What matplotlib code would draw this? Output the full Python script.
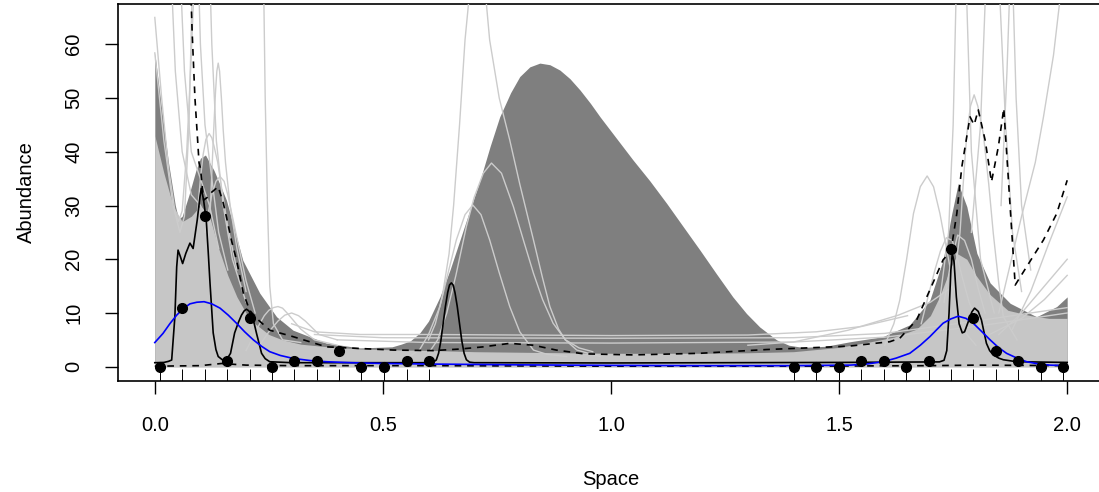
import matplotlib
matplotlib.use("Agg")
import matplotlib.pyplot as plt
import matplotlib.transforms as mtransforms

plt.rcParams['font.family'] = ['Liberation Sans', 'DejaVu Sans']

# ---------------- data ----------------
# observed samples (points + rug)
obs_x = [0.011, 0.060, 0.110, 0.159, 0.208, 0.257, 0.305, 0.355, 0.404, 0.453, 0.502, 0.552, 0.601,
         1.401, 1.450, 1.500, 1.549, 1.598, 1.647, 1.696, 1.745, 1.794, 1.844, 1.893, 1.942, 1.991]
obs_y = [0, 11, 28, 1, 9, 0, 1, 1, 3, 0, 0, 1, 1,
         0, 0, 0, 1, 1, 0, 1, 22, 9, 3, 1, 0, 0]

# upper envelope of the dark grey region
env_x = [0.0, 0.015, 0.03, 0.045, 0.052, 0.06, 0.075, 0.09, 0.1, 0.111, 0.13, 0.157, 0.193, 0.23,
         0.267, 0.303, 0.376, 0.45, 0.52, 0.54, 0.56, 0.581, 0.6, 0.625, 0.647, 0.669, 0.69, 0.713,
         0.735, 0.756, 0.78, 0.80, 0.822, 0.844, 0.866, 0.888, 0.91, 0.932, 0.955, 0.976, 1.012,
         1.048, 1.085, 1.122, 1.158, 1.195, 1.231, 1.267, 1.297, 1.326, 1.363, 1.39, 1.42, 1.47,
         1.524, 1.596, 1.655, 1.699, 1.728, 1.747, 1.761, 1.78, 1.802, 1.831, 1.875, 1.933, 1.977, 2.0]
env_y = [58.4, 48, 38, 30, 27.5, 28, 32, 36.5, 38.8, 39.4, 36.5, 31, 19.8, 13.7,
         9.3, 6.8, 4.4, 3.5, 3.7, 4.2, 4.8, 6.3, 8.5, 13.0, 18.0, 23.6, 29, 34.7,
         41, 46.5, 51, 54, 55.8, 56.5, 56.2, 55.2, 53.6, 51.5, 49.0, 46.5, 42.5,
         38.5, 34.6, 30.4, 26.1, 21.7, 17.3, 13.0, 9.9, 7.4, 5.0, 4.0, 3.6, 3.8,
         4.65, 5.6, 7.8, 12.4, 19.9, 28.5, 34.1, 29.8, 21.1, 15.6, 11.8, 9.3, 11.2, 13.0]

# top of the dense band of light grey simulation curves
band_x = [0, 0.02, 0.04, 0.06, 0.08, 0.1, 0.12, 0.14, 0.16, 0.18, 0.2, 0.22, 0.25, 0.28, 0.32, 0.38,
          0.45, 0.55, 0.62, 0.7, 0.8, 0.9, 1.0, 1.1, 1.2, 1.3, 1.4, 1.5, 1.56, 1.62, 1.67, 1.7, 1.72,
          1.745, 1.76, 1.78, 1.8, 1.83, 1.87, 1.92, 1.96, 2.0]
band_y = [43, 36, 30, 27, 28, 30, 28, 22, 17, 13, 10, 8, 6, 5, 4.2, 3.7,
          3.3, 3.1, 3.0, 2.8, 2.7, 2.6, 2.5, 2.5, 2.5, 2.6, 2.8, 3.6, 4.5, 5.5, 7.0, 9.5, 13,
          18.5, 21, 20, 17, 13.5, 10.5, 9.5, 9, 9]

# individual light grey simulation curves
sim1_x = [0, 0.015, 0.03, 0.045, 0.052, 0.06, 0.07, 0.08, 0.088]
sim1_y = [65, 50, 37, 28.5, 27, 29, 40, 58, 75]
sim2_x = [0, 0.02, 0.04, 0.055, 0.065, 0.075, 0.082]
sim2_y = [58.4, 42, 30, 25, 28, 45, 70]
sim3_x = [0.035, 0.045, 0.06, 0.08, 0.1, 0.12]
sim3_y = [75, 55, 40, 32, 30, 26]
sim4_x = [0.055, 0.065, 0.08, 0.1, 0.12, 0.14]
sim4_y = [75, 55, 40, 35, 30, 22]
sim5_x = [0.095, 0.1, 0.11, 0.125, 0.14, 0.16]
sim5_y = [75, 60, 45, 35, 25, 18]
sim6_x = [0.12, 0.125, 0.135, 0.15, 0.17, 0.2]
sim6_y = [75, 60, 42, 30, 20, 12]
sim7_x = [0.115, 0.122, 0.128, 0.133, 0.136, 0.139, 0.142, 0.146, 0.15, 0.155, 0.165, 0.18, 0.2]
sim7_y = [20, 30, 42, 51, 55, 56.5, 55, 50, 44, 38, 30, 22, 14]
sim8_x = [0.09, 0.1, 0.106, 0.112, 0.119, 0.125, 0.13, 0.138, 0.145, 0.16, 0.18]
sim8_y = [25, 35, 39.5, 42.3, 43.4, 42.6, 41, 38, 34, 26, 18]
sim9_x = [0.11, 0.118, 0.125, 0.134, 0.143, 0.152, 0.16, 0.17, 0.18, 0.2, 0.22]
sim9_y = [25, 29, 32, 34.5, 35.4, 34.5, 32, 28, 24, 16, 10]
sim10_x = [0.238, 0.242, 0.247, 0.252, 0.26, 0.28, 0.32]
sim10_y = [75, 50, 30, 15, 8, 5, 4.5]
sim11_x = [0.2, 0.215, 0.23, 0.24, 0.25, 0.26, 0.27, 0.28, 0.29, 0.305, 0.32, 0.35, 0.4]
sim11_y = [3, 5.5, 8, 9.5, 10.5, 11, 11.2, 10.9, 10, 8.5, 7, 5, 4]
sim12_x = [0.23, 0.25, 0.27, 0.285, 0.3, 0.315, 0.33, 0.36, 0.4]
sim12_y = [4, 6.5, 8.5, 9.6, 10, 9.5, 8.5, 6, 5]
sim13_x = [0.3, 0.35, 0.45, 0.6, 1.0, 1.3, 1.45, 1.55, 1.65]
sim13_y = [8, 6.5, 6, 6, 5.8, 5.9, 6.5, 7.5, 9.5]
sim14_x = [0.35, 0.5, 1.0, 1.4, 1.6, 1.8, 2.0]
sim14_y = [6, 5.4, 5.3, 5.4, 6.2, 8.5, 11]
sim15_x = [0.4, 0.6, 1.0, 1.4, 1.6, 1.8, 2.0]
sim15_y = [5, 4.5, 4.4, 4.6, 5.5, 7.5, 10]
sim16_x = [1.3, 1.4, 1.52, 1.63, 1.7, 1.75]
sim16_y = [4, 4.6, 6.8, 9.6, 12, 15]
sim17_x = [0.56, 0.58, 0.6, 0.625, 0.643, 0.661, 0.68, 0.697, 0.715, 0.734, 0.755, 0.778, 0.8,
           0.83, 0.86, 0.903]
sim17_y = [2.0, 3.1, 6, 11.2, 17.5, 23.6, 28.3, 30.1, 28.3, 23.6, 17.5, 11.2, 6.5,
           3.1, 2.3, 1.9]
sim18_x = [0.6, 0.62, 0.64, 0.66, 0.683, 0.7, 0.72, 0.738, 0.76, 0.786, 0.81, 0.83, 0.85, 0.873,
           0.9, 0.925, 0.976]
sim18_y = [2.5, 5, 10, 17, 26.1, 31.5, 36, 37.9, 36, 29.8, 23, 17.4, 12.5, 8.1,
           5, 3.1, 1.9]
sim19_x = [0.6, 0.615, 0.63, 0.645, 0.655, 0.668, 0.68, 0.695, 0.707, 0.72, 0.734, 0.755, 0.778,
           0.8, 0.83, 0.85, 0.866, 0.885, 0.9, 0.93, 0.96]
sim19_y = [5, 8, 13, 21, 30, 45, 60.8, 74, 78, 74, 60.8, 50, 42.2,
           34, 23.6, 16.5, 11.2, 7, 5, 3.5, 2.8]
sim20_x = [1.6, 1.62, 1.633, 1.648, 1.663, 1.678, 1.693, 1.707, 1.721, 1.732, 1.743, 1.755, 1.765, 1.78, 1.8]
sim20_y = [4, 8, 12.4, 20, 28.5, 33.5, 35.5, 33.5, 28.5, 23.5, 18.6, 13.5, 9.3, 6, 4]
sim21_x = [1.74, 1.752, 1.765, 1.772, 1.78, 1.788, 1.796, 1.804, 1.816, 1.828, 1.838, 1.85, 1.86, 1.89]
sim21_y = [10, 16, 24.9, 34, 43.4, 48.5, 50.6, 48.5, 43.4, 34, 24.8, 15.5, 9.3, 5]
sim22_x = [1.72, 1.74, 1.75, 1.756, 1.768, 1.78, 1.79, 1.81, 1.84]
sim22_y = [12, 25, 45, 67.5, 90, 67.5, 40, 20, 10]
sim23_x = [1.79, 1.81, 1.82, 1.836, 1.853, 1.865, 1.88, 1.9]
sim23_y = [25, 45, 67.5, 85, 67.5, 45, 25, 14]
sim24_x = [1.855, 1.868, 1.873, 1.878, 1.882, 1.888, 1.9, 1.92]
sim24_y = [30, 55, 67.5, 75, 67.5, 50, 30, 18]
sim25_x = [1.85, 1.875, 1.9, 1.93, 1.948, 1.97, 1.983]
sim25_y = [10, 19, 28, 38, 46.5, 58, 67.5]
sim26_x = [1.88, 1.92, 1.96, 2.0]
sim26_y = [7, 14, 23, 31.6]
sim27_x = [1.85, 1.9, 1.95, 2.0]
sim27_y = [6, 10, 15, 20]
sim28_x = [1.83, 1.9, 1.95, 2.0]
sim28_y = [6, 9, 12.5, 17]
sim29_x = [1.68, 1.695, 1.71, 1.722, 1.735, 1.748, 1.76, 1.772, 1.785, 1.81]
sim29_y = [8, 13, 18, 21.5, 24, 23.5, 20, 16, 12, 7]
sim30_x = [1.73, 1.745, 1.76, 1.775, 1.79, 1.805, 1.82]
sim30_y = [12, 19.5, 24.5, 23.5, 20, 14.5, 10]

# upper and lower dashed quantile curves
qhi_x = [0.077, 0.082, 0.088, 0.094, 0.097, 0.1, 0.107, 0.115, 0.125, 0.139, 0.15, 0.157, 0.168, 0.179,
         0.194, 0.208, 0.223, 0.252, 0.303, 0.376, 0.449, 0.523, 0.61, 0.67, 0.72, 0.778, 0.83, 0.88,
         0.94, 1.048, 1.195, 1.341, 1.487, 1.524, 1.611, 1.633, 1.67, 1.699, 1.728, 1.745, 1.758,
         1.769, 1.787, 1.796, 1.805, 1.82, 1.834, 1.849, 1.861, 1.873, 1.886, 1.911, 1.948, 1.977, 2.0]
qhi_y = [75, 62, 50, 42, 37.9, 37, 31, 31.5, 32.5, 33.5, 30.5, 27.9, 23.5, 19.9,
         13.7, 10.5, 9.0, 6.8, 5.6, 3.7, 3.4, 3.1, 3.0, 3.3, 3.7, 4.35, 4.0, 3.1,
         2.4, 2.2, 2.5, 3.2, 3.7, 3.85, 4.65, 5.3, 8.7, 14.3, 19.9, 21.5, 28.5,
         37.2, 46.5, 45.0, 47.8, 42.2, 34.4, 40.9, 48.1, 32.3, 15.2, 18.6, 23.6, 28.5, 34.7]
qlo_x = [0.0, 0.1, 0.146, 0.2, 0.3, 0.6, 1.0, 1.4, 1.7, 1.8, 2.0]
qlo_y = [0.1, 0.2, 0.6, 0.3, 0.2, 0.2, 0.1, 0.1, 0.2, 0.3, 0.2]

# black solid curve
fit_x = [0.0, 0.02, 0.03, 0.037, 0.044, 0.048, 0.051, 0.056, 0.061, 0.068, 0.077, 0.084, 0.093,
         0.099, 0.102, 0.107, 0.113, 0.117, 0.121, 0.128, 0.134, 0.139, 0.148, 0.157, 0.166, 0.175,
         0.183, 0.19, 0.196, 0.201, 0.206, 0.212, 0.218, 0.223, 0.229, 0.234, 0.242, 0.252, 0.3,
         0.6, 0.61, 0.617, 0.622, 0.627, 0.632, 0.637, 0.642, 0.646, 0.65, 0.654, 0.658, 0.663,
         0.668, 0.673, 0.678, 0.683, 0.69, 0.7, 1.0, 1.5, 1.72, 1.73, 1.736, 1.741, 1.745, 1.748,
         1.752, 1.757, 1.763, 1.77, 1.775, 1.785, 1.791, 1.797, 1.805, 1.812, 1.818, 1.823, 1.83,
         1.838, 1.85, 1.86, 1.889, 2.0]
fit_y = [0.75, 0.8, 1.0, 1.25, 9.3, 18.6, 21.7, 20.5, 19.2, 21.1, 23.0, 22.0, 27.3,
         31.6, 33.2, 31, 27, 21.5, 15.6, 6.3, 3.2, 1.9, 1.3, 1.25, 2.5, 6.3,
         8.2, 9.6, 10.4, 10.7, 10.4, 9.6, 8.0, 6.2, 4.2, 2.5, 1.5, 0.93, 0.75,
         0.75, 0.85, 1.25, 2.5, 4.8, 8.0, 11.2, 13.8, 15.2, 15.6, 15.2, 13.8, 11.2,
         8.0, 4.8, 2.5, 1.3, 0.85, 0.75, 0.7, 0.8, 0.9, 1.2, 3, 10, 18, 21.1,
         19.5, 13, 8, 6.3, 6.5, 8.8, 10.2, 10.9, 10.3, 8.7, 6.3, 4.35, 3.0,
         2.2, 1.6, 1.3, 0.93, 0.8]

# blue smooth curve
smooth_x = [0, 0.018, 0.033, 0.048, 0.062, 0.077, 0.092, 0.108, 0.125, 0.143, 0.161, 0.179, 0.197,
            0.216, 0.234, 0.252, 0.275, 0.303, 0.34, 0.376, 0.43, 0.486, 0.6, 0.8, 1.0, 1.2, 1.4,
            1.524, 1.56, 1.596, 1.625, 1.655, 1.678, 1.699, 1.714, 1.728, 1.745, 1.761, 1.778,
            1.794, 1.812, 1.831, 1.849, 1.867, 1.89, 1.911, 1.935, 1.962, 2.0]
smooth_y = [4.5, 6.2, 8.0, 9.6, 10.8, 11.7, 12.0, 12.1, 11.7, 10.9, 9.6, 8.1, 6.5,
            5.0, 3.8, 2.8, 2.1, 1.55, 1.15, 0.93, 0.75, 0.63, 0.5, 0.35, 0.25, 0.2, 0.2,
            0.3, 0.5, 0.93, 1.6, 2.5, 4.0, 5.6, 6.9, 8.1, 8.9, 9.4, 9.0,
            8.1, 6.6, 5.0, 3.6, 2.5, 1.6, 0.93, 0.55, 0.3, 0.2]

x_ticks = [0.0, 0.5, 1.0, 1.5, 2.0]
x_ticklabels = ["0.0", "0.5", "1.0", "1.5", "2.0"]
y_ticks = [0, 10, 20, 30, 40, 50, 60]

# ---------------- drawing ----------------
W, H = 1099, 492
fig = plt.figure(figsize=(W / 100, H / 100), dpi=100)
left_px, right_px, top_px, bottom_px = 118.3, 1103.7, 4.0, 380.7
ax = fig.add_axes([left_px / W, 1 - bottom_px / H, (right_px - left_px) / W, (bottom_px - top_px) / H])
ax.set_xlim(-0.08, 2.08)
ax.set_ylim(-2.6, 67.5)

dark = "#7f7f7f"
light = "#cccccc"
band_col = "#c6c6c6"

ax.fill_between(env_x, 0, env_y, color=dark, lw=0, zorder=1)
ax.fill_between(band_x, 0, band_y, color=band_col, lw=0, zorder=2)

sims = [(sim1_x, sim1_y), (sim2_x, sim2_y), (sim3_x, sim3_y), (sim4_x, sim4_y), (sim5_x, sim5_y),
        (sim6_x, sim6_y), (sim7_x, sim7_y), (sim8_x, sim8_y), (sim9_x, sim9_y), (sim10_x, sim10_y),
        (sim11_x, sim11_y), (sim12_x, sim12_y), (sim13_x, sim13_y), (sim14_x, sim14_y),
        (sim15_x, sim15_y), (sim16_x, sim16_y), (sim17_x, sim17_y), (sim18_x, sim18_y),
        (sim19_x, sim19_y), (sim20_x, sim20_y), (sim21_x, sim21_y), (sim22_x, sim22_y),
        (sim23_x, sim23_y), (sim24_x, sim24_y), (sim25_x, sim25_y), (sim26_x, sim26_y),
        (sim27_x, sim27_y), (sim28_x, sim28_y), (sim29_x, sim29_y), (sim30_x, sim30_y)]
for sx, sy in sims:
    ax.plot(sx, sy, color=light, lw=1.0, zorder=3, solid_joinstyle='round')

ax.plot(qhi_x, qhi_y, color="black", lw=1.2, ls=(0, (4, 3.5)), zorder=4)
ax.plot(qlo_x, qlo_y, color="black", lw=1.2, ls=(0, (4, 3.5)), zorder=4)
ax.plot(fit_x, fit_y, color="black", lw=1.2, zorder=5, solid_joinstyle='round')
ax.plot(smooth_x, smooth_y, color="#0000ff", lw=1.2, zorder=6, solid_joinstyle='round')
ax.plot(obs_x, obs_y, 'o', color="black", ms=7, zorder=7)

# rug
trans = mtransforms.blended_transform_factory(ax.transData, ax.transAxes)
ax.vlines(obs_x, 0, 0.03, transform=trans, color="black", lw=0.7, zorder=8)

for s in ax.spines.values():
    s.set_linewidth(1.2)

ax.set_xticks(x_ticks)
ax.set_xticklabels(x_ticklabels)
ax.set_yticks(y_ticks)
ax.set_yticklabels([str(v) for v in y_ticks], rotation=90, va='center')
ax.tick_params(axis='both', length=9.4, width=1.0, labelsize=14.5, pad=16)
ax.set_xlabel("Space", fontsize=14.5, labelpad=25.5)
ax.set_ylabel("Abundance", fontsize=14.5, labelpad=20)

fig.savefig("out.png", dpi=100)
